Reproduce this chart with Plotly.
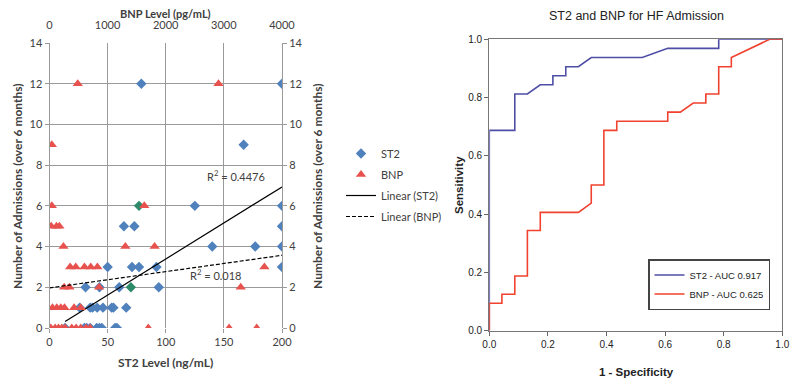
import plotly.graph_objects as go

# ---------------- Left panel data (scatter) ----------------
st2_x = [125, 200, 64, 73, 200, 140, 177, 200, 50, 71, 77, 92, 200, 31, 43, 60, 94,
         26, 35, 37, 41, 46, 53.5, 55, 66, 13.4, 30, 32, 35, 40.6, 43, 45, 56.4, 58, 79, 200, 167]
st2_y = [6, 6, 5, 5, 5, 4, 4, 4, 3, 3, 3, 3, 3, 2, 2, 2, 2,
         1, 1, 1, 1, 1, 1, 1, 1, 0, 0, 0, 0, 0, 0, 0, 0, 0, 12, 12, 9]
overlap_x = [77, 70]
overlap_y = [6, 2]

bnp_x = [486, 2907, 40, 40, 1631, 30, 120, 170, 240, 1305, 1808, 355, 452, 601, 710, 824, 3697,
         252, 343, 853, 3290, 51, 126, 195, 258, 423, 538,
         23, 97, 155, 212, 269, 383, 458, 538, 630, 698, 1700, 3090, 3565]
bnp_y = [12, 12, 9, 6, 6, 5, 5, 5, 4, 4, 4, 3, 3, 3, 3, 3, 3,
         2, 2, 2, 2, 1, 1, 1, 1, 1, 1,
         0, 0, 0, 0, 0, 0, 0, 0, 0, 0, 0, 0, 0]

st2_fit = {"slope": 0.0354, "intercept": -0.15, "r2": "0.4476"}
bnp_fit = {"slope": 0.0004, "intercept": 1.97, "r2": "0.018"}
bnp_range = [0, 4000]

# ---------------- Right panel data (ROC) ----------------
roc_st2_fpr = [0, 0, 0.087, 0.087, 0.13, 0.174, 0.217, 0.217, 0.261, 0.261, 0.304, 0.348,
               0.522, 0.609, 0.783, 0.783, 1.0]
roc_st2_tpr = [0, 0.6875, 0.6875, 0.8125, 0.8125, 0.844, 0.844, 0.875, 0.875, 0.906, 0.906, 0.9375,
               0.9375, 0.969, 0.969, 1.0, 1.0]
roc_bnp_fpr = [0, 0, 0.043, 0.043, 0.087, 0.087, 0.13, 0.13, 0.174, 0.174, 0.304, 0.348, 0.348,
               0.391, 0.391, 0.435, 0.435, 0.609, 0.609, 0.652, 0.696, 0.739, 0.739, 0.783, 0.783,
               0.826, 0.826, 0.957, 1.0]
roc_bnp_tpr = [0, 0.094, 0.094, 0.125, 0.125, 0.1875, 0.1875, 0.344, 0.344, 0.406, 0.406, 0.4375, 0.5,
               0.5, 0.6875, 0.6875, 0.71875, 0.71875, 0.75, 0.75, 0.78125, 0.78125, 0.8125, 0.8125, 0.906,
               0.906, 0.9375, 1.0, 1.0]
roc_labels = ["ST2 - AUC 0.917", "BNP - AUC 0.625"]

# ---------------- Styles / geometry ----------------
BLUE = "#4F81BD"
RED = "#E8524E"
GREEN = "#2E8B6A"
GRID = "#9a9a9a"
TXT = "#404040"
CAL = "Lato, 'Open Sans', sans-serif"
ARN = "'Liberation Sans Narrow', 'Liberation Sans', Arial, sans-serif"

OFF = 8          # page body margin
W, H = 800 - OFF, 388 - OFF


def fx(px):
    return (px - OFF) / W


def fy(py):
    return 1 - (py - OFF) / H


fig = go.Figure()

fig.add_trace(go.Scatter(x=st2_x, y=st2_y, mode="markers", name="ST2",
                         marker=dict(symbol="diamond", size=8, color=BLUE),
                         xaxis="x", yaxis="y", legend="legend", legendgroup="a"))
fig.add_trace(go.Scatter(x=overlap_x, y=overlap_y, mode="markers", showlegend=False,
                         marker=dict(symbol="diamond", size=8, color=GREEN),
                         xaxis="x", yaxis="y"))
fig.add_trace(go.Scatter(x=bnp_x, y=bnp_y, mode="markers", name="BNP",
                         marker=dict(symbol="triangle-up", size=9, color=RED),
                         xaxis="x2", yaxis="y", legend="legend", legendgroup="b"))

sx = [min(st2_x), max(st2_x)]
fig.add_trace(go.Scatter(x=sx, y=[st2_fit["slope"] * v + st2_fit["intercept"] for v in sx],
                         mode="lines", name="Linear (ST2)", line=dict(color="black", width=1.2),
                         xaxis="x", yaxis="y", legend="legend", legendgroup="c"))
fig.add_trace(go.Scatter(x=bnp_range, y=[bnp_fit["slope"] * v + bnp_fit["intercept"] for v in bnp_range],
                         mode="lines", name="Linear (BNP)",
                         line=dict(color="black", width=1.2, dash="4px,2px"),
                         xaxis="x2", yaxis="y", legend="legend", legendgroup="d"))
# right-hand y axis carrier
fig.add_trace(go.Scatter(x=[None], y=[None], xaxis="x", yaxis="y2", showlegend=False))

fig.add_trace(go.Scatter(x=roc_st2_fpr, y=roc_st2_tpr, mode="lines", name=roc_labels[0],
                         line=dict(color="#4E4EA6", width=1.6), xaxis="x3", yaxis="y3",
                         legend="legend2"))
fig.add_trace(go.Scatter(x=roc_bnp_fpr, y=roc_bnp_tpr, mode="lines", name=roc_labels[1],
                         line=dict(color="#F0422E", width=1.6), xaxis="x3", yaxis="y3",
                         legend="legend2"))

tickf = dict(family=CAL, size=11, color=TXT)
arialf = dict(family=ARN, size=10, color="#222")
tf = dict(family=CAL, size=12, color=TXT)


def ann(text, px, py, font, angle=0):
    return dict(text=text, x=fx(px), y=fy(py), xref="paper", yref="paper",
                xanchor="center", yanchor="middle", textangle=angle,
                showarrow=False, font=font)


fig.update_layout(
    width=W, height=H, margin=dict(l=0, r=0, t=0, b=0, autoexpand=False),
    paper_bgcolor="white", plot_bgcolor="white",
    xaxis=dict(domain=[fx(49.5), fx(282)], range=[0, 200], dtick=50, tickfont=tickf,
               showgrid=True, gridcolor=GRID, zeroline=False, ticks="outside", ticklen=4,
               tickcolor=GRID, showline=False, automargin=False),
    xaxis2=dict(overlaying="x", side="top", range=[0, 4000], dtick=1000, tickfont=tickf,
                showgrid=False, zeroline=False, ticks="outside", ticklen=9,
                tickcolor="rgba(0,0,0,0)", showline=False, anchor="y", automargin=False),
    yaxis=dict(domain=[fy(328), fy(43)], range=[0, 14], dtick=2, tickfont=tickf,
               showgrid=True, gridcolor=GRID, zeroline=False, ticks="outside", ticklen=4,
               tickcolor=GRID, showline=True, linecolor=GRID, automargin=False),
    yaxis2=dict(overlaying="y", side="right", range=[0, 14], dtick=2, tickfont=tickf,
                showgrid=False, zeroline=False, ticks="outside", ticklen=4, tickcolor=GRID,
                showline=True, linecolor=GRID, anchor="x", automargin=False),
    xaxis3=dict(domain=[fx(489.3), fx(782.3)], range=[0, 1], dtick=0.2, tickformat=".1f",
                tickfont=arialf, showgrid=False, zeroline=False, ticks="outside", ticklen=4,
                tickcolor="#666", showline=True, mirror=True, linecolor="#777", linewidth=1.2,
                anchor="y3", automargin=False),
    yaxis3=dict(domain=[fy(330.7), fy(39.3)], range=[0, 1], dtick=0.2, tickformat=".1f",
                tickfont=arialf, showgrid=False, zeroline=False, ticks="outside", ticklen=4,
                tickcolor="#666", showline=True, mirror=True, linecolor="#777", linewidth=1.2,
                anchor="x3", automargin=False),
    legend=dict(x=fx(341), y=fy(139), xanchor="left", yanchor="top",
                font=dict(family=CAL, size=11, color=TXT),
                bgcolor="rgba(0,0,0,0)", tracegroupgap=2, itemwidth=30),
    legend2=dict(x=fx(770), y=fy(259), xanchor="right", yanchor="top",
                 font=dict(family=ARN, size=9.5, color="#222"),
                 bgcolor="white", bordercolor="#444", borderwidth=1.5, itemwidth=30),
    annotations=[
        ann("<b>BNP Level (pg/mL)</b>", 165, 13.5, dict(family=CAL, size=11, color=TXT)),
        ann("<b>ST2 Level (ng/mL)</b>", 165, 362, tf),
        ann("<b>Number of Admissions (over 6 months)</b>", 17, 186, tf, -90),
        ann("<b>Number of Admissions (over 6 months)</b>", 317, 186, tf, -90),
        dict(text="R<sup>2</sup> = " + st2_fit["r2"], x=160, y=7.5, xref="x", yref="y",
             xanchor="center", yanchor="middle",
             showarrow=False, font=dict(family=CAL, size=11, color=TXT)),
        dict(text="R<sup>2</sup> = " + bnp_fit["r2"], x=143, y=2.65, xref="x", yref="y",
             xanchor="center", yanchor="middle",
             showarrow=False, font=dict(family=CAL, size=11, color=TXT)),
        ann("ST2 and BNP for HF Admission", 636, 16, dict(family=ARN, size=12.5, color="#222")),
        ann("<b>Sensitivity</b>", 459, 185, dict(family=ARN, size=11.5, color="#222"), -90),
        ann("<b>1 - Specificity</b>", 636, 372, dict(family=ARN, size=11.5, color="#222")),
    ],
)

fig.write_html("out.html")
